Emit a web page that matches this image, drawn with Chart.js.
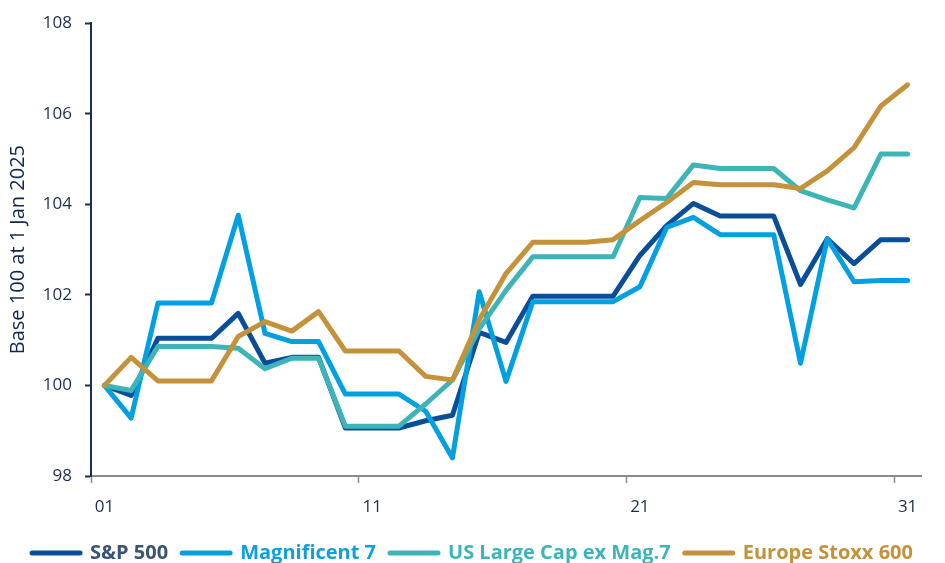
<!DOCTYPE html>
<html>
<head>
<meta charset="utf-8">
<script src="https://cdn.jsdelivr.net/npm/chart.js@4.4.1/dist/chart.umd.min.js"></script>
<style>
  html, body { margin: 0; padding: 0; background: #ffffff; }
  #wrap { width: 945px; height: 563px; position: relative; }
</style>
</head>
<body>
<div id="wrap"><canvas id="c" width="945" height="563"></canvas></div>
<script>
const days = ["01","02","03","04","05","06","07","08","09","10","11","12","13","14","15","16","17","18","19","20","21","22","23","24","25","26","27","28","29","30","31"];

const sp500 = [100, 99.78, 101.04, 101.04, 101.04, 101.59, 100.49, 100.62, 100.62, 99.06, 99.06, 99.06, 99.22, 99.34, 101.17, 100.95, 101.97, 101.97, 101.97, 101.97, 102.87, 103.53, 104.02, 103.74, 103.74, 103.74, 102.23, 103.24, 102.69, 103.22, 103.22];

const mag7 = [100, 99.28, 101.82, 101.82, 101.82, 103.76, 101.15, 100.97, 100.97, 99.81, 99.81, 99.81, 99.43, 98.40, 102.07, 100.09, 101.85, 101.85, 101.85, 101.85, 102.18, 103.49, 103.71, 103.33, 103.33, 103.33, 100.49, 103.24, 102.29, 102.32, 102.32];

const usExMag7 = [100, 99.89, 100.86, 100.86, 100.86, 100.82, 100.37, 100.60, 100.60, 99.10, 99.10, 99.10, 99.59, 100.12, 101.25, 102.10, 102.84, 102.84, 102.84, 102.84, 104.15, 104.13, 104.87, 104.79, 104.79, 104.79, 104.30, 104.10, 103.92, 105.11, 105.11];

const stoxx600 = [100, 100.62, 100.10, 100.10, 100.10, 101.08, 101.41, 101.20, 101.63, 100.76, 100.76, 100.76, 100.20, 100.12, 101.45, 102.47, 103.16, 103.16, 103.16, 103.22, 103.64, 104.04, 104.48, 104.43, 104.43, 104.43, 104.35, 104.74, 105.25, 106.17, 106.64];

const seriesNames = ["S&P 500", "Magnificent 7", "US Large Cap ex Mag.7", "Europe Stoxx 600"];
const lineColors = ["#0b4e98", "#02a0e0", "#3db5b8", "#c3923a"];
const textColors = ["#3a5574", "#109fdc", "#3db5b8", "#c3923a"];
const drawOrder = [3, 2, 1, 0];
const seriesData = [sp500, mag7, usExMag7, stoxx600];

const yTicks = [98, 100, 102, 104, 106, 108];
const yTitle = "Base 100 at 1 Jan 2025";

const FONT = "'Open Sans', 'Noto Sans', sans-serif";
const NAVY = "#1d2d52";
const GRAY = "#8a8a8a";

const datasets = seriesData.map((d, i) => ({
  label: seriesNames[i],
  data: d,
  yAxisID: 'y',
  borderColor: lineColors[i],
  backgroundColor: lineColors[i],
  borderWidth: 5,
  borderCapStyle: 'round',
  borderJoinStyle: 'round',
  pointRadius: 0,
  pointHoverRadius: 0,
  tension: 0,
  fill: false,
  order: drawOrder[i]
}));

new Chart(document.getElementById('c'), {
  type: 'line',
  data: { labels: days, datasets },
  options: {
    responsive: false,
    animation: false,
    devicePixelRatio: 1,
    layout: { padding: { left: 0, right: 0, top: 20, bottom: -10 } },
    plugins: {
      tooltip: { enabled: false },
      legend: {
        position: 'bottom',
        align: 'center',
        labels: {
          usePointStyle: true,
          pointStyle: 'line',
          pointStyleWidth: 48,
          boxHeight: 20,
          padding: 14,
          font: { family: FONT, size: 20, weight: 'bold' },
          sort: (a, b) => a.datasetIndex - b.datasetIndex,
          generateLabels: (chart) => chart.data.datasets.map((ds, i) => ({
            text: ds.label,
            fillStyle: ds.borderColor,
            strokeStyle: ds.borderColor,
            fontColor: textColors[i],
            lineWidth: 5,
            lineCap: 'round',
            pointStyle: 'line',
            hidden: false,
            datasetIndex: i
          }))
        }
      }
    },
    scales: {
      x: {
        type: 'category',
        offset: true,
        border: { display: true, color: GRAY, width: 2 },
        grid: {
          offset: true,
          drawOnChartArea: false,
          drawTicks: true,
          tickLength: 7,
          tickWidth: 1.5,
          tickColor: (ctx) => (ctx.index % 10 === 0 ? GRAY : 'rgba(0,0,0,0)')
        },
        ticks: {
          autoSkip: false,
          maxRotation: 0,
          minRotation: 0,
          padding: 14,
          color: NAVY,
          font: { family: FONT, size: 17 },
          callback: function (val, idx) { return idx % 10 === 0 ? this.getLabelForValue(val) : ''; }
        },
        afterFit: (s) => { s.height = 53; }
      },
      y: {
        min: 98,
        max: 108,
        afterBuildTicks: (s) => { s.ticks = yTicks.map(v => ({ value: v })); },
        border: { display: true, color: NAVY, width: 2 },
        grid: {
          drawOnChartArea: false,
          drawTicks: true,
          tickLength: 6,
          tickWidth: 2,
          tickColor: NAVY
        },
        ticks: {
          padding: 13,
          color: NAVY,
          font: { family: FONT, size: 17 }
        },
        title: {
          display: true,
          text: yTitle,
          color: "#0f2650",
          font: { family: FONT, size: 20 },
          padding: { top: 6, bottom: 0 }
        },
        afterFit: (s) => { s.width = 91; }
      },
      yR: {
        position: 'right',
        display: true,
        grid: { display: false, drawTicks: false },
        border: { display: false },
        ticks: { display: false },
        afterFit: (s) => { s.width = 24; }
      }
    }
  }
});
</script>
</body>
</html>
